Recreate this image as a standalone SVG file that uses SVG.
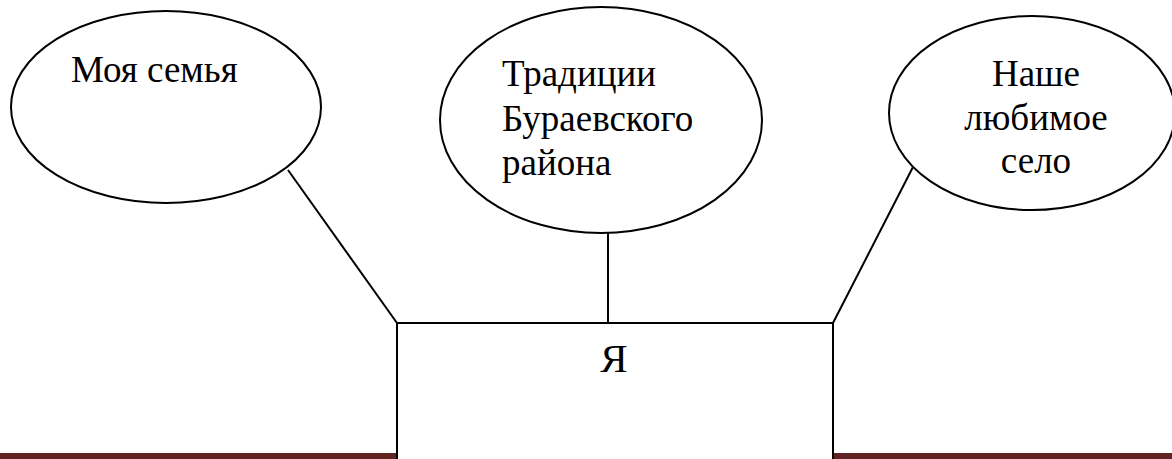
<svg xmlns="http://www.w3.org/2000/svg" width="1172" height="459" viewBox="0 0 1172 459">
<style>
.shape{fill:#fff;stroke:#000;stroke-width:2}
.conn{stroke:#000;stroke-width:2;fill:none}
.t{font-family:"Liberation Serif","Times New Roman",serif;font-size:37px;fill:#000}
</style>
<rect x="0" y="453" width="1172" height="6" fill="#622423"/>
<g id="connectors">
<line class="conn" x1="288" y1="170" x2="397" y2="323"/>
<line class="conn" x1="608" y1="233" x2="608" y2="323"/>
<line class="conn" x1="913" y1="167" x2="833" y2="323"/>
</g>
<g id="node-ya">
<rect class="shape" x="397" y="323" width="436" height="150"/>
<text class="t" x="614" y="372" text-anchor="middle" style="font-size:41px">Я</text>
</g>
<g id="node-family">
<ellipse class="shape" cx="166" cy="107" rx="155" ry="96"/>
<text class="t" x="71" y="82">Моя семья</text>
</g>
<g id="node-traditions">
<ellipse class="shape" cx="601" cy="120" rx="161" ry="113"/>
<text class="t" x="502" y="86">Традиции</text>
<text class="t" x="502" y="131">Бураевского</text>
<text class="t" x="502" y="175">района</text>
</g>
<g id="node-village">
<ellipse class="shape" cx="1032" cy="113" rx="143" ry="97"/>
<text class="t" x="1036" y="86" text-anchor="middle">Наше</text>
<text class="t" x="1036" y="130" text-anchor="middle">любимое</text>
<text class="t" x="1036" y="173" text-anchor="middle">село</text>
</g>
</svg>
